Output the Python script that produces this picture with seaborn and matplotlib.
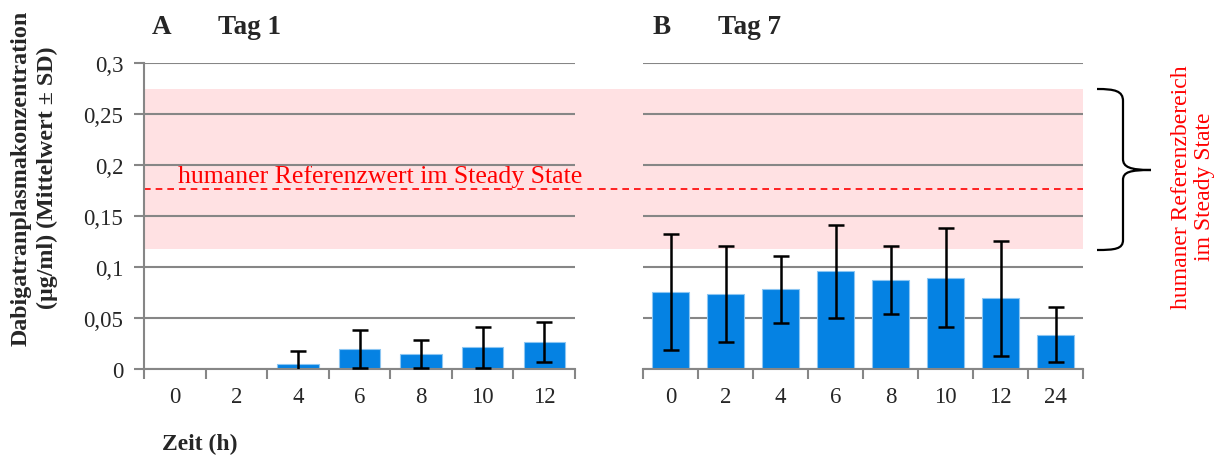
import numpy as np
import pandas as pd
import matplotlib
matplotlib.use('Agg')
import matplotlib.pyplot as plt
from matplotlib.path import Path
from matplotlib.patches import PathPatch
import seaborn as sns

# Tag 1 (A)
zeit_tag1 = ['0', '2', '4', '6', '8', '10', '12']
mittel_tag1 = [0, 0, 0.005, 0.0195, 0.015, 0.0212, 0.0268]
sd_tag1 = [np.nan, np.nan, 0.0125, 0.019, 0.0138, 0.0198, 0.0196]

# Tag 7 (B)
zeit_tag7 = ['0', '2', '4', '6', '8', '10', '12', '24']
mittel_tag7 = [0.0757, 0.0738, 0.0782, 0.0957, 0.0874, 0.0897, 0.0695, 0.0337]
sd_tag7 = [0.057, 0.0472, 0.0330, 0.0453, 0.0333, 0.0483, 0.0563, 0.0273]

# humaner Referenzbereich / Referenzwert im Steady State
ref_unten = 0.118
ref_oben = 0.275
ref_wert = 0.176

y_ticks = [0, 0.05, 0.1, 0.15, 0.2, 0.25, 0.3]
y_labels = ['0', '0,05', '0,1', '0,15', '0,2', '0,25', '0,3']

sns.set_style('white')
plt.rcParams['font.family'] = ['Liberation Serif', 'DejaVu Serif']

W, H = 1226, 456
fig = plt.figure(figsize=(W / 100, H / 100), dpi=100)

def px_box(x0, x1, ytop, ybot):
    return [x0 / W, 1 - ybot / H, (x1 - x0) / W, (ybot - ytop) / H]

grau = '#868686'
blau = '#0582E3'

# band in the background spanning both panels
ax_bg = fig.add_axes(px_box(144, 1083, 64, 370), zorder=0)
ax_bg.set_xlim(0, 1)
ax_bg.set_ylim(0, 0.3)
ax_bg.axis('off')
ax_bg.axhspan(ref_unten, ref_oben, color='#FFE1E3', lw=0)
ax_bg.axhline(ref_wert, color='#FF0000', lw=1.2, ls=(0, (4, 3)))
ax_bg.text((178 - 144) / (1083 - 144), ref_wert + 0.0025, 'humaner Referenzwert im Steady State',
           color='#FF0000', fontsize=18.5, va='bottom', ha='left')

def panel(box, zeit, mittel, sd, show_y):
    ax = fig.add_axes(box, zorder=1)
    ax.patch.set_alpha(0)
    df = pd.DataFrame({'Zeit': zeit, 'Wert': mittel})
    sns.barplot(data=df, x='Zeit', y='Wert', order=zeit, color=blau, width=0.67,
                errorbar=None, edgecolor='#8CC6F2', linewidth=0.8, saturation=1, ax=ax)
    ax.errorbar(np.arange(len(zeit)), mittel, yerr=sd, fmt='none', ecolor='black',
                elinewidth=1.8, capsize=5.5, capthick=1.8, zorder=5)
    n = len(zeit)
    ax.set_xlim(-0.5, n - 0.5)
    ax.set_ylim(0, 0.3)
    ax.set_xlabel('')
    ax.set_ylabel('')
    ax.set_axisbelow(True)
    ax.yaxis.grid(True, color=grau, lw=1.5)
    ax.set_yticks(y_ticks)
    ax.set_xticks(np.arange(-0.5, n, 1.0), minor=True)
    ax.tick_params(axis='x', which='major', length=0, pad=12, labelsize=16.5)
    ax.tick_params(axis='x', which='minor', length=7, width=1.5, color=grau, direction='out', bottom=True)
    for s in ['top', 'right']:
        ax.spines[s].set_visible(False)
    ax.spines['bottom'].set_color(grau)
    ax.spines['bottom'].set_linewidth(1.5)
    if show_y:
        ax.set_yticklabels(y_labels)
        ax.tick_params(axis='y', length=7, width=1.5, color=grau, direction='out', left=True,
                       pad=8, labelsize=16.5)
        ax.spines['left'].set_color(grau)
        ax.spines['left'].set_linewidth(1.5)
    else:
        ax.spines['left'].set_visible(False)
        ax.tick_params(axis='y', left=False, labelleft=False)
    return ax

ax1 = panel(px_box(144, 575, 64, 370), zeit_tag1, mittel_tag1, sd_tag1, True)
ax2 = panel(px_box(643, 1083, 64, 370), zeit_tag7, mittel_tag7, sd_tag7, False)

# titles
fig.text(152 / W, 1 - 27 / H, 'A', fontsize=19.5, fontweight='bold', va='center')
fig.text(218 / W, 1 - 27 / H, 'Tag 1', fontsize=19.5, fontweight='bold', va='center')
fig.text(653 / W, 1 - 27 / H, 'B', fontsize=19.5, fontweight='bold', va='center')
fig.text(718 / W, 1 - 27 / H, 'Tag 7', fontsize=19.5, fontweight='bold', va='center')

fig.text(34 / W, 1 - 178 / H, 'Dabigatranplasmakonzentration\n(µg/ml) (Mittelwert ± SD)',
         rotation=90, fontsize=17.3, fontweight='bold', ha='center', va='center',
         multialignment='center', linespacing=1.3)
fig.text(162 / W, 1 - 444 / H, 'Zeit (h)', fontsize=17, fontweight='bold', va='center')

# brace and label on the right
ax_ov = fig.add_axes([0, 0, 1, 1], zorder=2)
ax_ov.set_xlim(0, W)
ax_ov.set_ylim(H, 0)
ax_ov.axis('off')
ax_ov.patch.set_alpha(0)
verts = [(1097, 90), (1115, 90), (1123, 92), (1123, 102),
         (1123, 160),
         (1123, 168), (1130, 171), (1151, 171),
         (1130, 171), (1123, 173), (1123, 181),
         (1123, 241),
         (1123, 250), (1115, 251), (1097, 251)]
codes = [Path.MOVETO, Path.CURVE4, Path.CURVE4, Path.CURVE4,
         Path.LINETO,
         Path.CURVE4, Path.CURVE4, Path.CURVE4,
         Path.CURVE4, Path.CURVE4, Path.CURVE4,
         Path.LINETO,
         Path.CURVE4, Path.CURVE4, Path.CURVE4]
ax_ov.add_patch(PathPatch(Path(verts, codes), fill=False, lw=1.6, ec='black'))
ax_ov.text(1193, 187, 'humaner Referenzbereich\nim Steady State', rotation=90, color='#FF0000',
           fontsize=17, ha='center', va='center', multialignment='center', linespacing=1.1)

fig.savefig('out.png', dpi=100)
